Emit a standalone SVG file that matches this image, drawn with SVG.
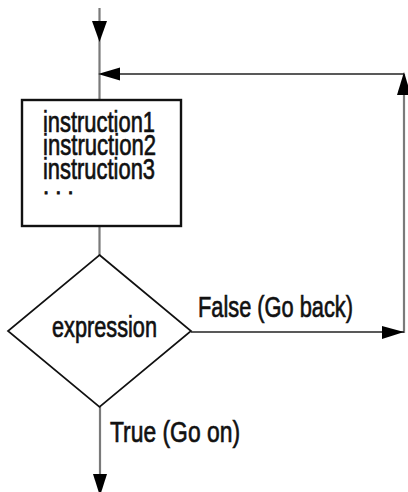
<svg xmlns="http://www.w3.org/2000/svg" width="408" height="492" viewBox="0 0 408 492">
<style>
.t{font-family:"Liberation Sans",Arial,sans-serif;font-size:30px;fill:#111;stroke:#111;stroke-width:0.7;}
.v{stroke:#7a7a7a;stroke-width:2.2;fill:none;}
.h{stroke:#222;stroke-width:1.7;fill:none;}
.ah{fill:#000;stroke:none;}
</style>
<rect width="408" height="492" fill="#fff"/>
<g id="connectors">
<line class="v" x1="99.5" y1="8" x2="99.5" y2="100"/>
<polygon class="ah" points="92,21 107,21 99.5,42"/>
<line class="h" x1="118" y1="74" x2="404" y2="74"/>
<polygon class="ah" points="98,74 120,67.5 120,80.5"/>
<line class="v" x1="404" y1="74" x2="404" y2="333"/>
<polygon class="ah" points="404,72 397,95 411,95"/>
<line class="v" x1="99.5" y1="226" x2="99.5" y2="255"/>
<line class="h" x1="191" y1="332" x2="404" y2="332"/>
<polygon class="ah" points="404,332 382,326 382,339"/>
<line class="v" x1="100" y1="407" x2="100" y2="476"/>
<polygon class="ah" points="93,474 107,474 100,496"/>
<text class="t" x="198" y="317" textLength="155" lengthAdjust="spacingAndGlyphs">False (Go back)</text>
<text class="t" x="110" y="442" textLength="130" lengthAdjust="spacingAndGlyphs">True (Go on)</text>
</g>
<g id="instructions">
<rect x="22" y="100" width="159" height="126" fill="#fff" stroke="#111" stroke-width="2.4"/>
<text class="t" x="43" y="132" textLength="112" lengthAdjust="spacingAndGlyphs">instruction1</text>
<text class="t" x="43" y="155" textLength="113" lengthAdjust="spacingAndGlyphs">instruction2</text>
<text class="t" x="43" y="179" textLength="112" lengthAdjust="spacingAndGlyphs">instruction3</text>
<text x="43" y="194" font-family="Liberation Sans, Arial, sans-serif" font-size="22" fill="#111" stroke="#111" stroke-width="0.8">. . .</text>
</g>
<g id="expression">
<polygon points="99.5,255 191,331 99.5,407 8,331" fill="#fff" stroke="#111" stroke-width="1.7"/>
<text class="t" x="52" y="337" textLength="105" lengthAdjust="spacingAndGlyphs">expression</text>
</g>
</svg>
